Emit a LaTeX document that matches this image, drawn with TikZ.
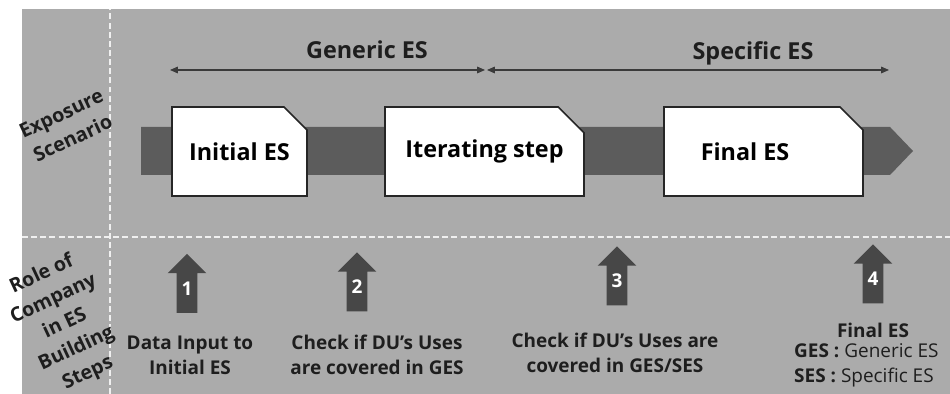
\documentclass[tikz,border=0pt]{standalone}
\usepackage{fontspec}
\setmainfont{Open Sans}
\usetikzlibrary{arrows.meta, positioning, shapes.misc, shapes.arrows}
\definecolor{PanelGray}{HTML}{ABABAB}
\definecolor{BandGray}{HTML}{5C5C5C}
\definecolor{StepGray}{HTML}{474747}
\definecolor{LineGray}{HTML}{3A3A3A}
\definecolor{InkGray}{HTML}{1E1E1E}

\begin{document}
\begin{tikzpicture}[x=0.02cm, y=0.02cm,
    divider/.style={draw=white!94!black, line width=1.1pt, dash pattern=on 3.4pt off 1.8pt},
    esbox/.style={chamfered rectangle, chamfered rectangle corners=north east,
                  chamfered rectangle sep=0.28cm, draw=black!85, line width=0.9pt,
                  fill=white, inner sep=0pt, minimum height=1.78cm,
                  font=\fontsize{13.3}{16}\selectfont\bfseries},
    span/.style={{Triangle[length=4.5pt,width=3.8pt]}-{Triangle[length=4.5pt,width=3.8pt]},
                 draw=LineGray, line width=0.6pt},
    spanlabel/.style={anchor=base, font=\fontsize{13.3}{16}\selectfont\bfseries, text=InkGray},
    sidelabel/.style={rotate=25, align=center, text=InkGray,
                      font=\fontsize{11.2}{15.5}\selectfont\bfseries},
    steparrow/.style={single arrow, shape border rotate=90, fill=StepGray,
                      single arrow head extend=0.18cm, single arrow head indent=0pt,
                      minimum height=1.18cm, inner xsep=2.6pt, inner ysep=2pt,
                      text=white, font=\fontsize{10.8}{13}\selectfont\bfseries},
    steptext/.style={align=center, text=InkGray, font=\fontsize{10.8}{14.2}\selectfont\bfseries}]

\useasboundingbox (0,0) rectangle (950,394);
\fill[PanelGray] (22,0) rectangle (950,385);
\draw[divider] (110,0) -- (110,385);
\draw[divider] (22,157) -- (950,157);

% row labels
\node[sidelabel] (exposure) at (67,268) {Exposure\\Scenario};
\node[sidelabel] (role) at (65,70) {Role of\\Company\\in ES\\Building\\Steps};

% timeline band
\fill[BandGray] (141,267) -- (890,267) -- (913,243) -- (890,219) -- (141,219) -- cycle;

\node[esbox, minimum width=2.7cm] (initial) at (239.5,242.5) {Initial ES};
\node[esbox, minimum width=3.98cm] (iterating) at (484.5,242.5) {Iterating step};
\node[esbox, minimum width=3.98cm] (final) at (763.5,242.5) {Final ES\hspace*{21pt}};

% generic / specific spans
\coordinate (genL) at (170,324);
\coordinate (genR) at (485,324);
\coordinate (speL) at (487,324);
\coordinate (speR) at (889,324);
\draw[span] (genL) -- (genR);
\draw[span] (speL) -- (speR);
\node[spanlabel] (generic) at (367,335) {Generic ES};
\node[spanlabel] (specific) at (753,334) {Specific ES};

% role of company
\foreach \n/\x/\y in {1/187/105.5, 2/357/107, 3/617/113, 4/873/115}
    \node[steparrow] (step\n) at (\x,\y) {\n};

\node[steptext] (t1) at (190,39) {Data Input to\\Initial ES};
\node[steptext] (t2) at (377,39) {Check if DU’s Uses\\are covered in GES};
\node[steptext] (t3) at (615,41) {Check if DU’s Uses are\\covered in GES/SES};
\node[steptext] (t4) at (873,64) {Final ES};
\node[steptext, align=left, anchor=west] (legend) at (788,29)
    {GES : \mdseries Generic ES\\SES : \mdseries Specific ES};

\end{tikzpicture}
\end{document}
